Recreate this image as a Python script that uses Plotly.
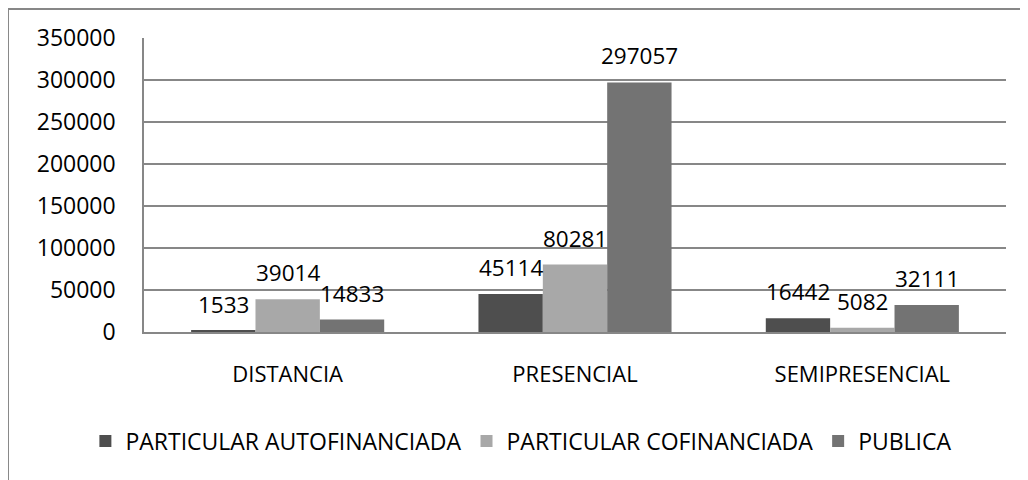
# chart: matriculas by modalidad / tipo de institucion

import plotly.graph_objects as go

# data

modalidades = ["DISTANCIA", "PRESENCIAL", "SEMIPRESENCIAL"]
series_names = ["PARTICULAR AUTOFINANCIADA", "PARTICULAR COFINANCIADA", "PUBLICA"]
autofinanciada = [1533, 45114, 16442]
cofinanciada = [39014, 80281, 5082]
publica = [14833, 297057, 32111]

y_ticks = [0, 50000, 100000, 150000, 200000, 250000, 300000, 350000]

series_values = [autofinanciada, cofinanciada, publica]
colors = ["#4e4e4e", "#a8a8a8", "#737373"]

FONT = "Open Sans"

# figure

fig = go.Figure()

for name, vals, col in zip(series_names, series_values, colors):
    fig.add_trace(go.Bar(x=modalidades, y=vals, name=name,
                         marker=dict(color=col, line=dict(width=0))))

# value labels above bars (Excel style, a bit higher than plotly's outside text)
bar_px = 64.3
for i, vals in enumerate(series_values):
    for cat, v in zip(modalidades, vals):
        fig.add_annotation(x=cat, y=v, text=str(v), showarrow=False,
                           xshift=(i - 1) * bar_px, yshift=9, yanchor="bottom",
                           font=dict(family=FONT, size=22.5, color="black"))

# outer chart frame
fig.add_shape(type="rect", xref="paper", yref="paper",
              x0=-0.1578, x1=1.2, y0=-0.8, y1=1.0986,
              line=dict(color="#878787", width=2), fillcolor="rgba(0,0,0,0)", layer="below")

# page body has an 8px margin, so the figure is a bit smaller than the window
fig.update_layout(
    width=1020, height=472,
    margin=dict(l=136, r=22, t=30, b=148, autoexpand=False),
    paper_bgcolor="white", plot_bgcolor="white",
    barmode="group", bargap=0.328, bargroupgap=0,
    font=dict(family=FONT, size=22, color="black"),
    showlegend=True,
    legend=dict(orientation="h", x=-0.068, xanchor="left",
                y=-0.371, yanchor="middle",
                font=dict(family=FONT, size=23, color="black"),
                traceorder="normal"),
)

fig.update_yaxes(range=[0, 350000], tickvals=y_ticks, ticktext=[str(t) for t in y_ticks],
                 showgrid=True, gridcolor="#878787", gridwidth=1.5,
                 showline=True, linecolor="#878787", linewidth=1.5,
                 zeroline=False, ticks="", ticklabelstandoff=22,
                 tickfont=dict(family=FONT, size=23, color="black"))
fig.update_xaxes(showline=True, linecolor="#878787", linewidth=1.5, ticks="",
                 ticklabelstandoff=22,
                 tickfont=dict(family=FONT, size=22, color="black"))

fig.write_html("out.html")
